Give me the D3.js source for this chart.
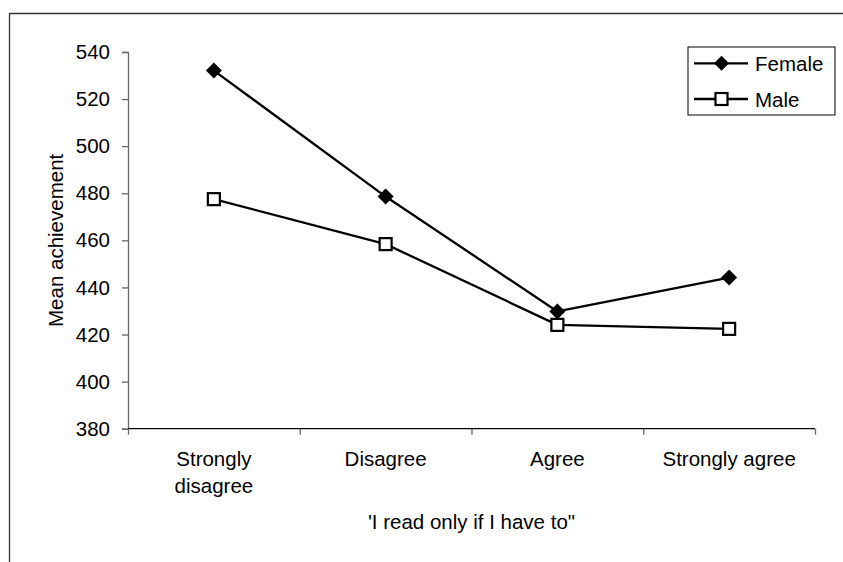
<!DOCTYPE html>
<html><head><meta charset="utf-8">
<script src="https://cdn.jsdelivr.net/npm/d3@7"></script>
<style>
html,body{margin:0;padding:0;background:#fff;}
svg{display:block;font-family:"Liberation Sans",Arial,sans-serif;}
</style></head>
<body>
<svg id="chart" width="843" height="562"></svg>
<script>
const categories = [["Strongly","disagree"],["Disagree"],["Agree"],["Strongly agree"]];
const female = [532.1, 478.6, 429.8, 444.2];
const male = [477.5, 458.4, 424.1, 422.4];
const yTicks = [380, 400, 420, 440, 460, 480, 500, 520, 540];
const seriesNames = ["Female", "Male"];
const yTitle = "Mean achievement";
const xTitle = "'I read only if I have to\"";

const svg = d3.select("#chart");
const L = 128, R = 815, T = 52, B = 428.7;
const fs = 20.5;

// outer frame
svg.append("path").attr("d", `M9.5,570 V13.5 H850`).attr("fill","none").attr("stroke","#333").attr("stroke-width",1.3);

const y = d3.scaleLinear().domain([380,540]).range([B,T]);
const xb = d3.scaleBand().domain(d3.range(categories.length)).range([L,R]).padding(0);
const xc = i => xb(i) + xb.bandwidth()/2;
const xl = d3.scaleLinear().domain([0,categories.length]).range([L,R]);

// y axis
const ya = svg.append("g").attr("transform",`translate(${L},0)`)
  .call(d3.axisLeft(y).tickValues(yTicks).tickSize(6).tickPadding(12).tickFormat(d3.format("d")));
ya.select(".domain").attr("stroke","#666").attr("stroke-width",1.3);
ya.selectAll(".tick line").attr("stroke","#666").attr("stroke-width",1.3);
ya.selectAll(".tick text").attr("font-size",fs).attr("font-family","Liberation Sans, Arial, sans-serif").attr("fill","#000");

// x axis
const xa = svg.append("g").attr("transform",`translate(0,${B})`)
  .call(d3.axisBottom(xl).tickValues(d3.range(categories.length+1)).tickSize(6).tickFormat(""));
xa.select(".domain").attr("stroke","#000").attr("stroke-width",1.3).attr("d",`M${L},0H${R}`);
xa.selectAll(".tick line").attr("stroke","#666").attr("stroke-width",1.3);

// category labels
categories.forEach((lines,i)=>{
  const t = svg.append("text").attr("x",xc(i)).attr("y",466).attr("text-anchor","middle")
    .attr("font-size",fs).attr("fill","#000");
  lines.forEach((ln,j)=>{
    t.append("tspan").attr("x",xc(i)).attr("dy", j===0?0:26.7).text(ln);
  });
});

// titles
svg.append("text").attr("x",(L+R)/2).attr("y",529).attr("text-anchor","middle")
  .attr("font-size",fs).attr("fill","#000").text(xTitle);
svg.append("text").attr("transform",`translate(63,${(T+B)/2}) rotate(-90)`).attr("text-anchor","middle")
  .attr("font-size",fs).attr("fill","#000").text(yTitle);

// lines
const line = d3.line().x((d,i)=>xc(i)).y(d=>y(d));
[female, male].forEach(s=>{
  svg.append("path").datum(s).attr("d",line).attr("fill","none").attr("stroke","#000").attr("stroke-width",2.3).attr("stroke-linejoin","round");
});

const diamond = (cx,cy,r)=>`M${cx},${cy-r}L${cx+r},${cy}L${cx},${cy+r}L${cx-r},${cy}Z`;
// markers
svg.selectAll(".fm").data(female).enter().append("path")
  .attr("d",(d,i)=>diamond(xc(i),y(d),8)).attr("fill","#000");
svg.selectAll(".mm").data(male).enter().append("rect")
  .attr("x",(d,i)=>xc(i)-6).attr("y",d=>y(d)-6).attr("width",12).attr("height",12)
  .attr("fill","#fff").attr("stroke","#000").attr("stroke-width",2.2);

// legend
const lg = svg.append("g");
lg.append("rect").attr("x",688).attr("y",47).attr("width",147).attr("height",68)
  .attr("fill","#fff").attr("stroke","#000").attr("stroke-width",1);
const ly = [63.3, 99];
seriesNames.forEach((n,k)=>{
  lg.append("line").attr("x1",694).attr("x2",748).attr("y1",ly[k]).attr("y2",ly[k]).attr("stroke","#000").attr("stroke-width",2.3);
  if(k===0) lg.append("path").attr("d",diamond(721.5,ly[k],7.5)).attr("fill","#000");
  else lg.append("rect").attr("x",721.5-6).attr("y",ly[k]-6).attr("width",12).attr("height",12).attr("fill","#fff").attr("stroke","#000").attr("stroke-width",2.2);
  lg.append("text").attr("x",755).attr("y",ly[k]+7.5).attr("font-size",fs).attr("fill","#000").text(n);
});
</script>
</body></html>
